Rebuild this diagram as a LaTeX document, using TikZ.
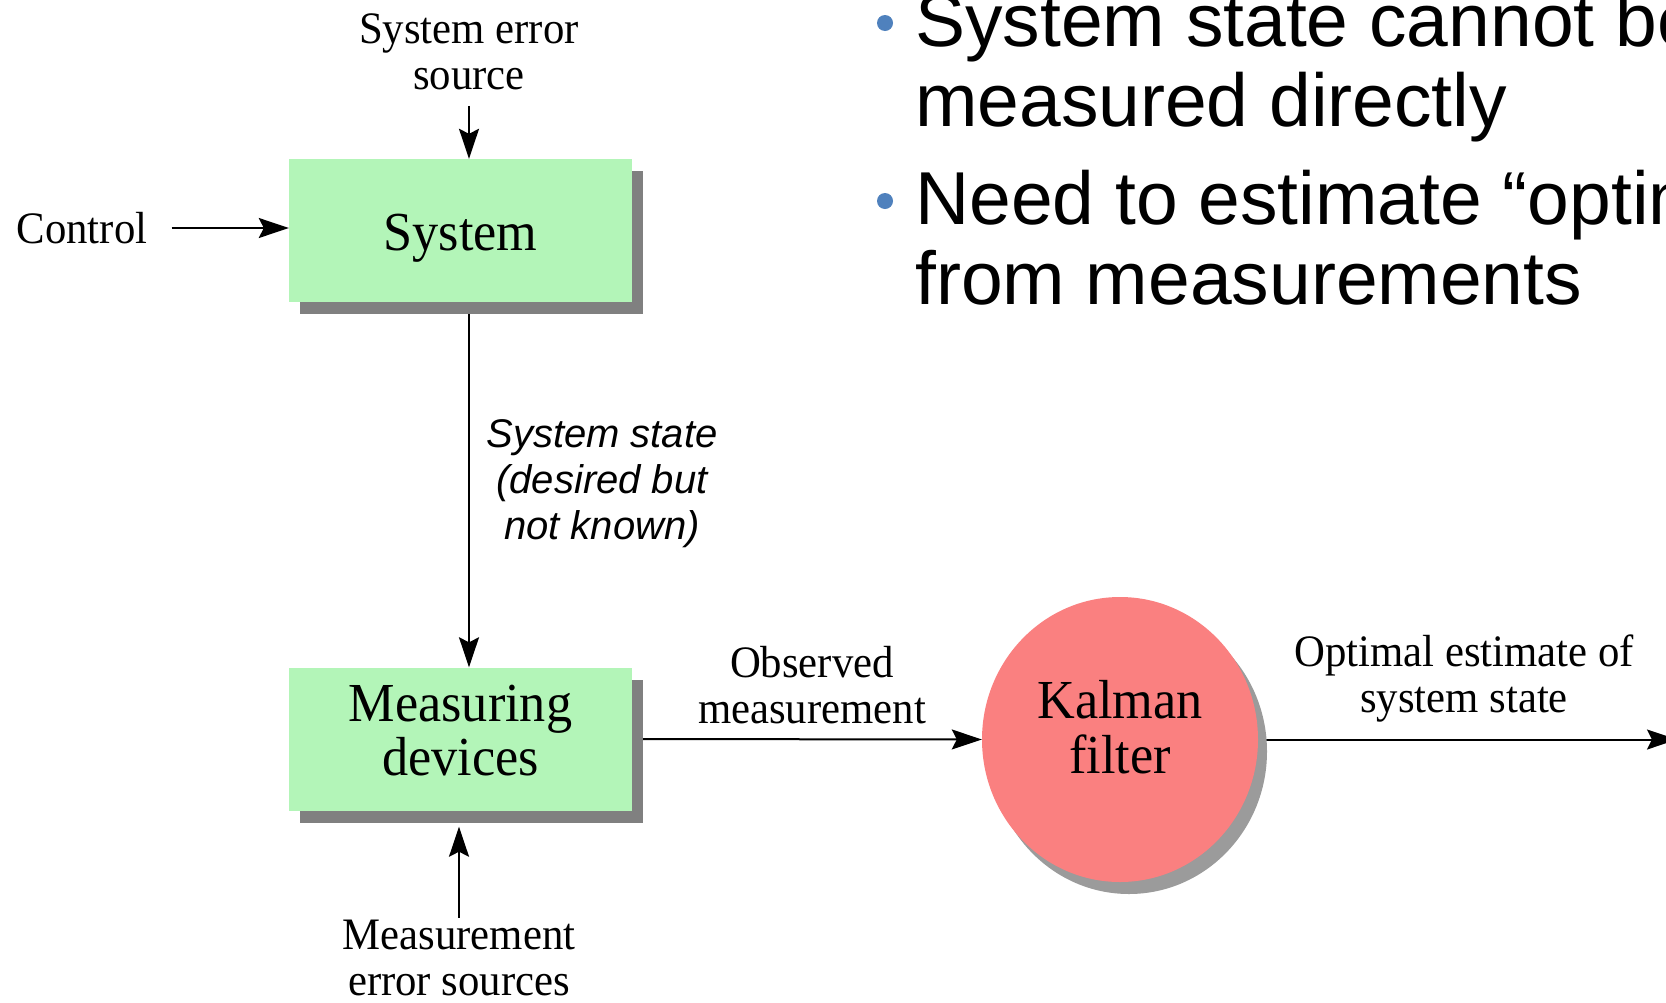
\documentclass[tikz,border=0pt]{standalone}
\usepackage{fontspec}
\setmainfont{Liberation Serif}[FakeStretch=0.95]
\newfontfamily\sansf{Liberation Sans}
\usetikzlibrary{arrows.meta,shapes.geometric,shadows,backgrounds}
\definecolor{boxgreen}{RGB}{179,245,184}
\definecolor{kalred}{RGB}{250,128,128}
\definecolor{bulletblue}{RGB}{79,129,189}
\definecolor{shadowgray}{RGB}{128,128,128}
\definecolor{circshadow}{RGB}{155,155,155}
\begin{document}
\begin{tikzpicture}[x=1pt,y=-1pt,
  blockbox/.style={rectangle, fill=boxgreen, minimum width=343pt, minimum height=143pt,
    inner sep=0pt, align=center, font=\fontsize{55}{54}\selectfont,
    drop shadow={shadow xshift=11pt, shadow yshift=-12pt, fill=shadowgray, opacity=1}},
  kalnode/.style={ellipse, fill=kalred, minimum width=276pt, minimum height=285pt,
    inner sep=0pt, align=center, font=\fontsize{55}{55}\selectfont,
    drop shadow={shadow xshift=9pt, shadow yshift=-12pt, fill=circshadow, opacity=1}},
  lbl/.style={align=center, inner sep=2pt, font=\fontsize{45}{46}\selectfont},
  ital/.style={align=center, inner sep=2pt, font=\sansf\itshape\fontsize{40}{46}\selectfont},
  bul/.style={anchor=base west, inner sep=0pt, font=\sansf\fontsize{75}{80}\selectfont},
  bdot/.style={circle, fill=bulletblue, minimum size=16pt, inner sep=0pt},
  conn/.style={line width=2pt, -{Stealth[length=30pt, width=20pt, inset=5pt]}}
]
\begin{pgfonlayer}{background}
\fill[white] (0,0) rectangle (1666,1002);
\end{pgfonlayer}
\useasboundingbox (0,0) rectangle (1666,1002);

% blocks
\node[blockbox, text height=39pt, text depth=0pt] (sys) at (460.5,230.5) {System};
\node[blockbox] (meas) at (460.5,739) {Measuring\\devices\rule[-17pt]{0pt}{0pt}};
\node[kalnode] (kal) at (1120,739.5) {Kalman\\filter\rule[-26pt]{0pt}{0pt}};

% labels
\node[lbl] (serr) at (469,51.5) {System error\\source};
\node[lbl] (ctrl) at (82,228) {Control};
\node[lbl] (obs) at (812,685) {Observed\\measurement};
\node[lbl] (opt) at (1464,678.5) {Optimal estimate of\\system state};
\node[lbl] (merr) at (459,958) {Measurement\\error sources};
\node[ital] (state) at (602,484) {System state\\(desired but\\not known)};
\coordinate (outend) at (1677,739.5);

% bullets
\node[bdot] (d1) at (885,23) {};
\node[bdot] (d2) at (885,201) {};
\node[bul] (t1a) at (915,46) {System state cannot be};
\node[bul] (t1b) at (915,126) {measured directly};
\node[bul] (t2a) at (915,224) {Need to estimate “optimal”};
\node[bul] (t2b) at (915,304) {from measurements};

% connectors (behind shadows)
\begin{pgfonlayer}{background}
\draw[conn, shorten <=14pt] (serr.south) -- (serr.south |- sys.north);
\draw[conn, shorten <=22pt] (ctrl.east) -- (ctrl.east -| sys.west);
\draw[conn] (sys.south -| serr.south) -- (meas.north -| serr.south);
\draw[conn, shorten >=16pt] (merr.north) -- (merr.north |- meas.south);
\draw[conn] (meas.east) -- (kal.west);
\draw[conn] (kal.east) -- (outend);
\end{pgfonlayer}
\end{tikzpicture}
\end{document}
